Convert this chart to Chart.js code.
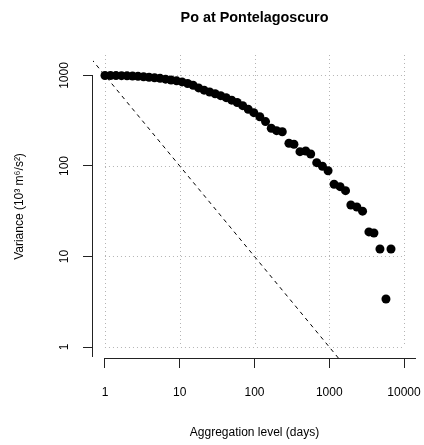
<!DOCTYPE html>
<html>
<head>
<meta charset="utf-8">
<script src="https://cdn.jsdelivr.net/npm/chart.js@4"></script>
<style>
  body { margin: 0; background: #fff; }
  #chartBox { width: 424px; height: 445px; }
</style>
</head>
<body>
<div id="chartBox"><canvas id="varChart" width="424" height="445"></canvas></div>
<script>
// aggregation levels (days)
const aggLevels = [
  1, 1.185, 1.404, 1.664, 1.972, 2.336, 2.768, 3.281, 3.887, 4.605,
  5.457, 6.466, 7.662, 9.08, 10.76, 12.75, 15.1, 17.89, 21.2, 25.13,
  29.77, 35.28, 41.8, 49.54, 58.7, 69.55, 82.41, 97.9, 117.8, 140.5,
  167.6, 197.4, 235.4, 288.7, 337, 405.6, 483.8, 564.7, 679.5, 810.4,
  963.6, 1160, 1396, 1650, 1944, 2339, 2789, 3390, 3957, 4764,
  5733, 6691
];
// variance (10^3 m^6/s^2)
const variances = [
  1000, 1000, 997, 995, 990, 985, 977, 967, 955, 943,
  929, 910, 892, 872, 848, 816, 779, 728, 688, 657,
  628, 598, 568, 533, 502, 464, 423, 388, 350, 309,
  261, 245.5, 239, 178, 174, 144, 146.5, 135.7, 108.8, 99.2,
  88.5, 62.9, 59.1, 53.4, 37.1, 35.2, 31.7, 18.7, 18.2, 12.1,
  3.39, 12.1
];
const xTicks = [1, 10, 100, 1000, 10000];
const yTicks = [1, 10, 100, 1000];
// reference line of slope -1 (through 1000 at day 1)
const refX = [0.1, 100000];
const refY = [10000, 0.01];

const chartTitle = 'Po at Pontelagoscuro';
const xTitle = 'Aggregation level (days)';
const yTitle = 'Variance (10³ m⁶/s²)';

const fontName = '"Liberation Sans", Arial, Helvetica, sans-serif';
Chart.defaults.font.family = fontName;
Chart.defaults.font.size = 12;
Chart.defaults.color = '#000';

// R style decorations: dotted grid inside the tick range, detached axis lines,
// rotated y labels and the main title
const rStyle = {
  id: 'rStyle',
  beforeDatasetsDraw(chart) {
    const ctx = chart.ctx;
    const xs = chart.scales.x, ys = chart.scales.y;
    const area = chart.chartArea;
    const x0 = xs.getPixelForValue(xTicks[0]);
    const x1 = xs.getPixelForValue(xTicks[xTicks.length - 1]);
    const yBot = ys.getPixelForValue(yTicks[0]);
    ctx.save();
    ctx.strokeStyle = '#b4b4b4';
    ctx.lineWidth = 1;
    ctx.setLineDash([1, 3]);
    xTicks.forEach(v => {
      const px = Math.round(xs.getPixelForValue(v)) + 0.5;
      ctx.beginPath();
      ctx.moveTo(px, area.top);
      ctx.lineTo(px, yBot);
      ctx.stroke();
    });
    yTicks.forEach(v => {
      const py = Math.round(ys.getPixelForValue(v)) + 0.5;
      ctx.beginPath();
      ctx.moveTo(x0, py);
      ctx.lineTo(x1, py);
      ctx.stroke();
    });
    ctx.restore();
  },
  afterDraw(chart) {
    const ctx = chart.ctx;
    const xs = chart.scales.x, ys = chart.scales.y;
    const area = chart.chartArea;
    ctx.save();
    ctx.strokeStyle = '#222';
    ctx.lineWidth = 1;
    ctx.beginPath();
    ctx.moveTo(xs.getPixelForValue(xTicks[0]), area.bottom + 0.5);
    ctx.lineTo(area.right, area.bottom + 0.5);
    ctx.moveTo(area.left - 0.5, ys.getPixelForValue(yTicks[yTicks.length - 1]));
    ctx.lineTo(area.left - 0.5, area.bottom - 1);
    ctx.stroke();

    ctx.fillStyle = '#000';
    // y tick labels, turned like R's las=0
    ctx.font = '12px ' + fontName;
    ctx.textAlign = 'center';
    ctx.textBaseline = 'middle';
    yTicks.forEach(v => {
      ctx.save();
      ctx.translate(area.left - 28, ys.getPixelForValue(v));
      ctx.rotate(-Math.PI / 2);
      ctx.fillText(String(v), 0, 0);
      ctx.restore();
    });
    // y axis title
    ctx.save();
    ctx.translate(20, (area.top + area.bottom) / 2);
    ctx.rotate(-Math.PI / 2);
    ctx.fillText(yTitle, 0, 0);
    ctx.restore();

    ctx.font = 'bold 14.4px ' + fontName;
    ctx.textBaseline = 'alphabetic';
    ctx.fillText(chartTitle, (area.left + area.right) / 2, 22);
    ctx.restore();
  }
};

// keep label overhang from shrinking the plot region
function noOverhang(s) {
  s.paddingLeft = 0;
  s.paddingRight = 0;
  s.paddingTop = 0;
  s.paddingBottom = 0;
}

const ctx = document.getElementById('varChart');
new Chart(ctx, {
  type: 'scatter',
  data: {
    datasets: [
      {
        label: 'variance',
        data: aggLevels.map((d, i) => ({ x: d, y: variances[i] })),
        backgroundColor: '#000',
        borderWidth: 0,
        pointRadius: 4.5,
        pointHoverRadius: 4.5
      },
      {
        label: 'slope -1',
        data: refX.map((d, i) => ({ x: d, y: refY[i] })),
        showLine: true,
        borderColor: '#000',
        borderWidth: 1,
        borderDash: [4, 4],
        pointRadius: 0
      }
    ]
  },
  options: {
    responsive: false,
    animation: false,
    devicePixelRatio: 1,
    layout: { padding: { left: 0, right: 8, top: 55, bottom: 0 } },
    plugins: {
      legend: { display: false },
      title: { display: false },
      tooltip: { enabled: false }
    },
    scales: {
      x: {
        type: 'logarithmic',
        min: Math.pow(10, -0.16),
        max: Math.pow(10, 4.16),
        afterBuildTicks: s => { s.ticks = xTicks.map(v => ({ value: v })); },
        afterFit: s => { s.height = 87; noOverhang(s); },
        ticks: { callback: v => String(v), padding: 17, maxRotation: 0, autoSkip: false },
        grid: { drawOnChartArea: false, drawTicks: true, tickLength: 10, color: '#222' },
        border: { display: false },
        title: { display: true, text: xTitle, font: { size: 12 }, padding: { top: 0, bottom: 5 } }
      },
      y: {
        type: 'logarithmic',
        min: Math.pow(10, -0.1215),
        max: Math.pow(10, 3.226),
        afterBuildTicks: s => { s.ticks = yTicks.map(v => ({ value: v })); },
        afterFit: s => { s.width = 93; noOverhang(s); },
        ticks: { display: false },
        grid: { drawOnChartArea: false, drawTicks: true, tickLength: 10, color: '#222' },
        border: { display: false },
        title: { display: false }
      }
    }
  },
  plugins: [rStyle]
});
</script>
</body>
</html>
